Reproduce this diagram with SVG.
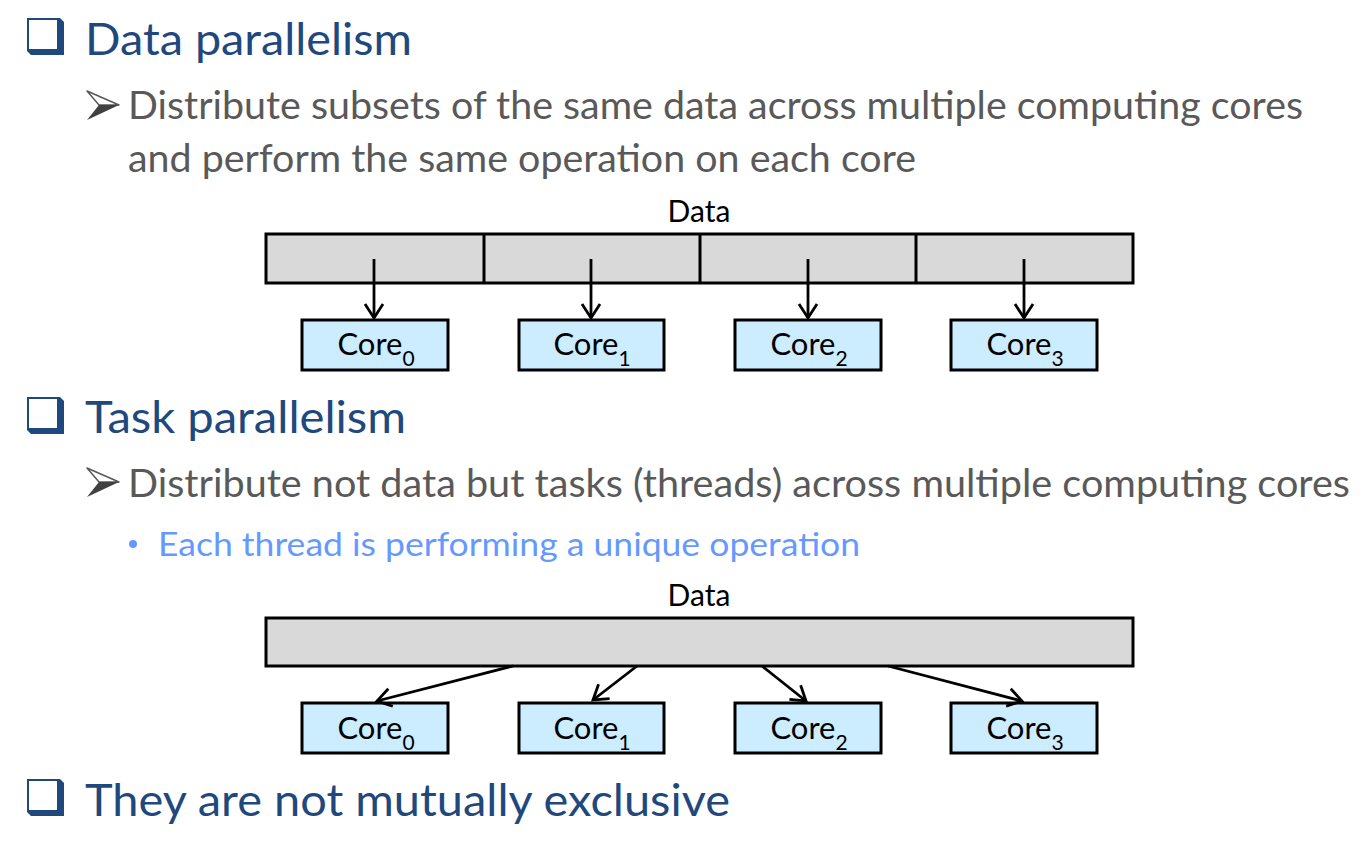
<svg xmlns="http://www.w3.org/2000/svg" width="1371" height="848" viewBox="0 0 1371 848">
<style>
text{font-family:Lato,"Open Sans","Liberation Sans",sans-serif}
.title{fill:#1F497D;font-size:44px}
.body{fill:#595959;font-size:39px}
.sub{fill:#6699FF;font-size:32px}
.lbl{fill:#000;font-size:30px;text-anchor:middle}
.core rect{fill:#CCECFF;stroke:#000;stroke-width:3}
.core text{fill:#000;font-size:31px;text-anchor:middle}
.core tspan{font-size:21px}
.bar{fill:#D9D9D9;stroke:#000;stroke-width:3}
.div{stroke:#000;stroke-width:3}
.conn line{stroke:#000;stroke-width:2.8;marker-end:url(#ah)}
</style>
<defs>
<marker id="ah" markerUnits="userSpaceOnUse" markerWidth="20" markerHeight="24" refX="16" refY="11" orient="auto" viewBox="0 0 20 22">
<path d="M2,2 L16,11 L2,20" fill="none" stroke="#000" stroke-width="2.8"/>
</marker>
<g id="chk">
<path d="M0,0 H33 L37,4 V37 H4 L0,33 Z" fill="#1F497D"/>
<rect x="2" y="2" width="28" height="29" fill="#fff"/>
</g>
<g id="arr">
<path d="M0,0 L32,14 L12,14 Z" fill="#fff" stroke="#595959" stroke-width="1.5" stroke-linejoin="round"/>
<path d="M12,14 L32,14 L0,29 Z" fill="#404040"/>
</g>
</defs>
<rect width="1371" height="848" fill="#fff"/>

<g id="heading-data">
<use href="#chk" x="27" y="18"/>
<text class="title" x="85" y="55" textLength="327" lengthAdjust="spacingAndGlyphs">Data parallelism</text>
</g>
<g id="point-data">
<use href="#arr" x="87" y="91"/>
<text class="body" x="128" y="119" textLength="1175" lengthAdjust="spacingAndGlyphs">Distribute subsets of the same data across multiple computing cores</text>
<text class="body" x="128" y="172" textLength="788" lengthAdjust="spacingAndGlyphs">and perform the same operation on each core</text>
</g>

<g id="data1">
<text class="lbl" x="699" y="222">Data</text>
<rect class="bar" x="266" y="234" width="867" height="49"/>
<line class="div" x1="484" y1="234" x2="484" y2="283"/>
<line class="div" x1="700" y1="234" x2="700" y2="283"/>
<line class="div" x1="916" y1="234" x2="916" y2="283"/>
</g>
<g id="d-core0" class="core"><rect x="302" y="320" width="146" height="50"/><text x="376" y="355">Core<tspan dy="11">0</tspan></text></g>
<g id="d-core1" class="core"><rect x="519" y="320" width="145" height="50"/><text x="592" y="355">Core<tspan dy="11">1</tspan></text></g>
<g id="d-core2" class="core"><rect x="735" y="320" width="146" height="50"/><text x="809" y="355">Core<tspan dy="11">2</tspan></text></g>
<g id="d-core3" class="core"><rect x="951" y="320" width="146" height="50"/><text x="1025" y="355">Core<tspan dy="11">3</tspan></text></g>

<g id="heading-task">
<use href="#chk" x="27" y="397"/>
<text class="title" x="85" y="433" textLength="321" lengthAdjust="spacingAndGlyphs">Task parallelism</text>
</g>
<g id="point-task">
<use href="#arr" x="87" y="468"/>
<text class="body" x="128" y="497" textLength="1222" lengthAdjust="spacingAndGlyphs">Distribute not data but tasks (threads) across multiple computing cores</text>
<circle cx="133" cy="544" r="4" fill="#6699FF"/>
<text class="sub" x="158" y="556" textLength="702" lengthAdjust="spacingAndGlyphs">Each thread is performing a unique operation</text>
</g>

<g id="data2">
<text class="lbl" x="699" y="606">Data</text>
<rect class="bar" x="266" y="618" width="867" height="48"/>
</g>
<g id="t-core0" class="core"><rect x="302" y="703" width="146" height="50"/><text x="376" y="739">Core<tspan dy="11">0</tspan></text></g>
<g id="t-core1" class="core"><rect x="519" y="703" width="145" height="50"/><text x="592" y="739">Core<tspan dy="11">1</tspan></text></g>
<g id="t-core2" class="core"><rect x="735" y="703" width="146" height="50"/><text x="809" y="739">Core<tspan dy="11">2</tspan></text></g>
<g id="t-core3" class="core"><rect x="951" y="703" width="146" height="50"/><text x="1025" y="739">Core<tspan dy="11">3</tspan></text></g>

<g id="heading-exclusive">
<use href="#chk" x="27" y="779"/>
<text class="title" x="85" y="816" textLength="645" lengthAdjust="spacingAndGlyphs">They are not mutually exclusive</text>
</g>

<g id="connectors" class="conn">
<line x1="374" y1="259" x2="374" y2="318"/>
<line x1="591" y1="259" x2="591" y2="318"/>
<line x1="808" y1="259" x2="808" y2="318"/>
<line x1="1024" y1="259" x2="1024" y2="318"/>
<line x1="513" y1="666" x2="377" y2="701"/>
<line x1="637" y1="666" x2="593" y2="700"/>
<line x1="762" y1="666" x2="806" y2="701"/>
<line x1="888" y1="666" x2="1022" y2="701"/>
</g>
</svg>
